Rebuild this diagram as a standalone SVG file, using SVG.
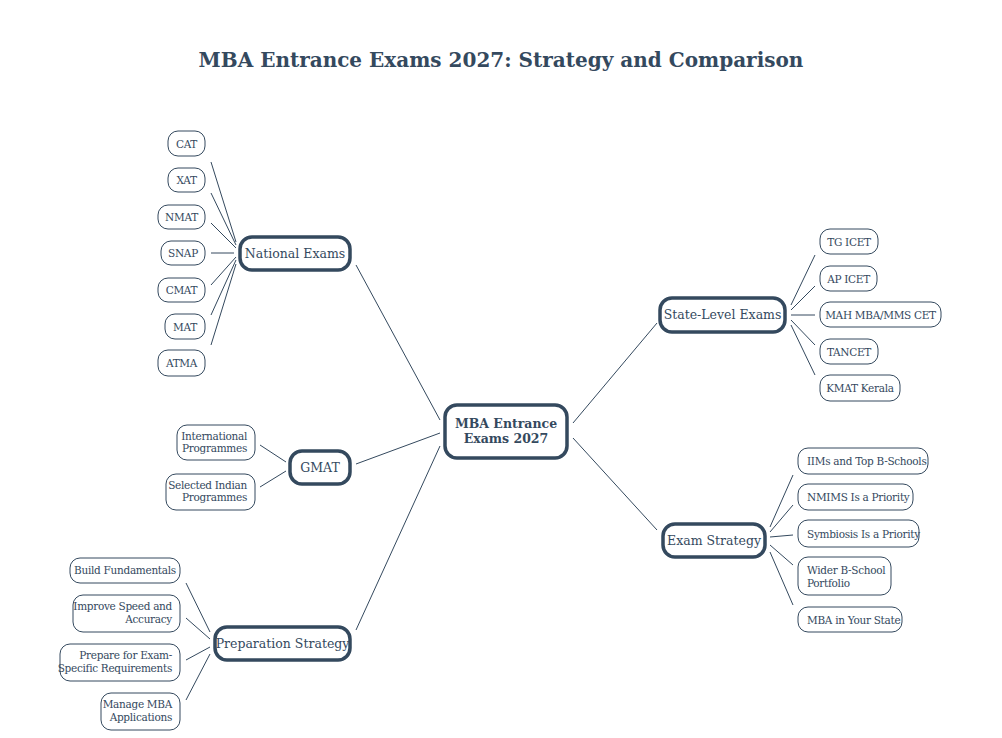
<svg xmlns="http://www.w3.org/2000/svg" width="1002" height="738" viewBox="0 0 1002 738">
<style>
text{font-family:"DejaVu Serif","Liberation Serif",serif;fill:#34495e}
.t{font-size:20px;font-weight:bold;text-anchor:middle}
.m rect{fill:#fff;stroke:#34495e;stroke-width:3.5}
.m text{font-size:12.5px;text-anchor:middle}
.l rect{fill:#fff;stroke:#34495e;stroke-width:1}
.l text{font-size:10.5px;letter-spacing:-0.3px}
.c{text-anchor:middle}.r{text-anchor:end}
#conn line{stroke:#34495e;stroke-width:1}
</style>
<rect width="1002" height="738" fill="#fff"/>
<text class="t" x="501" y="67">MBA Entrance Exams 2027: Strategy and Comparison</text>
<g id="conn">
<line x1="356" y1="265" x2="440" y2="420"/><line x1="356" y1="464" x2="440" y2="433"/><line x1="356" y1="630" x2="440" y2="446"/>
<line x1="573" y1="423" x2="657" y2="323"/><line x1="573" y1="438" x2="657" y2="530"/>
<line x1="211" y1="162" x2="236" y2="242"/><line x1="211" y1="193" x2="236" y2="245"/><line x1="211" y1="223" x2="236" y2="248"/><line x1="211" y1="253" x2="234" y2="253"/><line x1="211" y1="285" x2="236" y2="257"/><line x1="211" y1="315" x2="236" y2="260"/><line x1="211" y1="345" x2="236" y2="264"/>
<line x1="260" y1="445" x2="286" y2="462"/><line x1="260" y1="487" x2="286" y2="471"/>
<line x1="186" y1="583" x2="210" y2="632"/><line x1="186" y1="618" x2="210" y2="639"/><line x1="186" y1="660" x2="210" y2="647"/><line x1="186" y1="700" x2="210" y2="654"/>
<line x1="791" y1="305" x2="815" y2="255"/><line x1="791" y1="310" x2="815" y2="286"/><line x1="791" y1="315" x2="815" y2="315"/><line x1="791" y1="320" x2="815" y2="345"/><line x1="791" y1="325" x2="815" y2="375"/>
<line x1="770" y1="527" x2="793" y2="475"/><line x1="770" y1="532" x2="793" y2="505"/><line x1="770" y1="537" x2="793" y2="535"/><line x1="770" y1="545" x2="793" y2="565"/><line x1="770" y1="552" x2="793" y2="605"/>
</g>
<g id="center" class="m"><rect x="445" y="405" width="122" height="53" rx="12"/><text x="506" y="428" font-weight="bold">MBA Entrance</text><text x="506" y="443" font-weight="bold">Exams 2027</text></g>
<g id="national" class="m"><rect x="240" y="237" width="110" height="33" rx="12"/><text x="295" y="258">National Exams</text></g>
<g id="gmat" class="m"><rect x="290" y="451" width="60" height="33" rx="12"/><text x="320" y="472">GMAT</text></g>
<g id="prep" class="m"><rect x="215" y="627" width="135" height="33" rx="12"/><text x="282.5" y="648">Preparation Strategy</text></g>
<g id="state" class="m"><rect x="660" y="298" width="125" height="34" rx="12"/><text x="722.5" y="319">State-Level Exams</text></g>
<g id="examstrat" class="m"><rect x="663" y="524" width="102" height="33" rx="12"/><text x="714" y="545">Exam Strategy</text></g>
<g id="cat" class="l"><rect x="168" y="131" width="37" height="25" rx="10"/><text class="c" x="186.5" y="148">CAT</text></g>
<g id="xat" class="l"><rect x="168" y="168" width="37" height="24" rx="10"/><text class="c" x="186.5" y="184">XAT</text></g>
<g id="nmat" class="l"><rect x="158" y="205" width="47" height="24" rx="10"/><text class="c" x="181.5" y="221">NMAT</text></g>
<g id="snap" class="l"><rect x="161" y="241" width="44" height="24" rx="10"/><text class="c" x="183" y="257">SNAP</text></g>
<g id="cmat" class="l"><rect x="158" y="278" width="47" height="24" rx="10"/><text class="c" x="181.5" y="294">CMAT</text></g>
<g id="mat" class="l"><rect x="165" y="314" width="40" height="25" rx="10"/><text class="c" x="185" y="331">MAT</text></g>
<g id="atma" class="l"><rect x="158" y="350" width="47" height="26" rx="10"/><text class="c" x="181.5" y="367">ATMA</text></g>
<g id="intl" class="l"><rect x="177" y="425" width="78" height="35" rx="10"/><text class="r" x="247" y="440">International</text><text class="r" x="247" y="452">Programmes</text></g>
<g id="indian" class="l"><rect x="166" y="474" width="89" height="36" rx="10"/><text class="r" x="247" y="489">Selected Indian</text><text class="r" x="247" y="501">Programmes</text></g>
<g id="fund" class="l"><rect x="70" y="558" width="110" height="25" rx="10"/><text class="c" x="125" y="574">Build Fundamentals</text></g>
<g id="speed" class="l"><rect x="73" y="595" width="107" height="37" rx="10"/><text class="r" x="172" y="610">Improve Speed and</text><text class="r" x="172" y="623">Accuracy</text></g>
<g id="req" class="l"><rect x="60" y="644" width="120" height="37" rx="10"/><text class="r" x="172" y="659">Prepare for Exam-</text><text class="r" x="172" y="672">Specific Requirements</text></g>
<g id="apps" class="l"><rect x="101" y="693" width="79" height="37" rx="10"/><text class="r" x="172" y="708">Manage MBA</text><text class="r" x="172" y="721">Applications</text></g>
<g id="tg" class="l"><rect x="820" y="229" width="58" height="25" rx="10"/><text class="c" x="849" y="246">TG ICET</text></g>
<g id="ap" class="l"><rect x="820" y="266" width="57" height="25" rx="10"/><text class="c" x="848.5" y="283">AP ICET</text></g>
<g id="mah" class="l"><rect x="820" y="302" width="121" height="25" rx="10"/><text class="c" x="880.5" y="319">MAH MBA/MMS CET</text></g>
<g id="tancet" class="l"><rect x="820" y="339" width="58" height="25" rx="10"/><text class="c" x="849" y="356">TANCET</text></g>
<g id="kmat" class="l"><rect x="820" y="375" width="80" height="26" rx="10"/><text class="c" x="860" y="392">KMAT Kerala</text></g>
<g id="iims" class="l"><rect x="798" y="448" width="130" height="26" rx="10"/><text x="807" y="465">IIMs and Top B-Schools</text></g>
<g id="nmims" class="l"><rect x="798" y="484" width="115" height="26" rx="10"/><text x="807" y="501">NMIMS Is a Priority</text></g>
<g id="symb" class="l"><rect x="798" y="520" width="121" height="27" rx="10"/><text x="807" y="538">Symbiosis Is a Priority</text></g>
<g id="wider" class="l"><rect x="798" y="557" width="93" height="38" rx="10"/><text x="807" y="574">Wider B-School</text><text x="807" y="587">Portfolio</text></g>
<g id="state-mba" class="l"><rect x="798" y="607" width="104" height="25" rx="10"/><text x="807" y="624">MBA in Your State</text></g>
</svg>
